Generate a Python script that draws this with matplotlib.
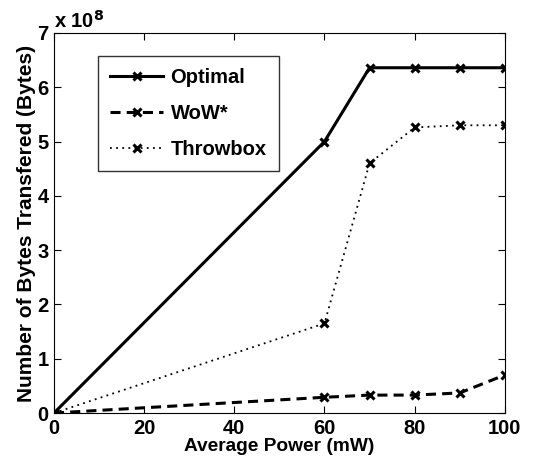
import numpy as np
import matplotlib.pyplot as plt

# data (bytes, in units of 1e8)
power = [0, 60, 70, 80, 90, 100]
optimal = [0, 5.0, 6.36, 6.36, 6.36, 6.36]
wow = [0, 0.29, 0.33, 0.33, 0.37, 0.70]
throwbox = [0, 1.65, 4.6, 5.26, 5.30, 5.30]

plt.rcParams['font.family'] = ['Liberation Sans', 'DejaVu Sans']
plt.rcParams['font.weight'] = 'bold'
plt.rcParams['font.size'] = 14

fig = plt.figure(figsize=(5.59, 4.66), dpi=100)
ax = fig.add_axes([0.0966, 0.1137, 0.8064, 0.8155])

mk = dict(marker='x', markersize=6, markeredgewidth=2.2, color='k')
ax.plot(power, np.array(optimal) * 1e8, '-', linewidth=2.2, label='Optimal', **mk)
ax.plot(power, np.array(wow) * 1e8, '--', linewidth=2.2, dashes=(3.3, 2.0), label='WoW*', **mk)
ax.plot(power, np.array(throwbox) * 1e8, ':', linewidth=1.3, dashes=(1.0, 2.4), label='Throwbox', **mk)

ax.set_xlim(0, 100)
ax.set_ylim(0, 7e8)
ax.set_xticks(np.arange(0, 101, 20))
ax.set_yticks(np.arange(0, 8, 1) * 1e8)
ax.set_yticklabels([str(i) for i in range(8)])
for lab in ax.get_xticklabels() + ax.get_yticklabels():
    lab.set_fontweight('bold')
    lab.set_fontsize(14.5)
ax.tick_params(direction='in', top=True, right=True, length=5, width=0.8, pad=4)
ax.text(0.0, 1.003, r'x 10$^{\mathbf{8}}$', transform=ax.transAxes,
        fontsize=14.5, fontweight='bold', ha='left', va='bottom')

ax.set_xlabel('Average Power (mW)', fontweight='bold', fontsize=13.8, labelpad=0)
ax.set_ylabel('Number of Bytes Transfered (Bytes)', fontweight='bold',
              fontsize=15, labelpad=1)

leg = ax.legend(loc='upper left', bbox_to_anchor=(0.0976, 0.9395), borderaxespad=0,
                fancybox=False, edgecolor='k', handlelength=2.65, handletextpad=0.35,
                borderpad=0.6, labelspacing=0.85,
                prop={'weight': 'bold', 'size': 14.5})
leg.get_frame().set_linewidth(1.0)

fig.savefig('out.png', dpi=100)
